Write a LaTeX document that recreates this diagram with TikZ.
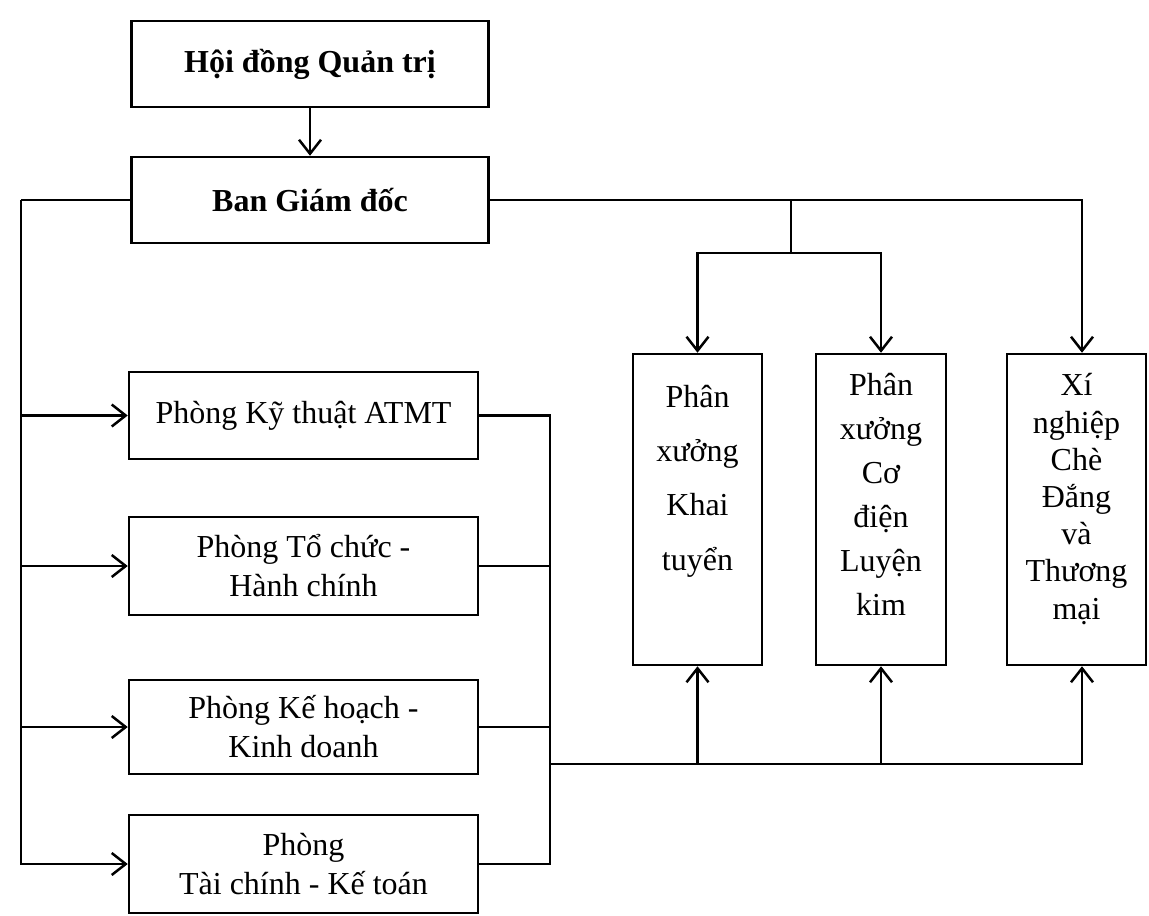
\documentclass[tikz,border=0pt]{standalone}
\usepackage{fontspec}
\setmainfont{Liberation Serif}
\usetikzlibrary{arrows.meta,calc}
\begin{document}
\begin{tikzpicture}[x=0.5pt,y=-0.5pt,
  box/.style={draw, line width=1.25pt, inner sep=0pt, align=center,
    font=\fontsize{16}{19.5}\selectfont},
  txt/.style={inner sep=0pt, align=center},
  ln/.style={line width=1.25pt},
  arr/.style={-{Straight Barb[length=7pt,width=11pt]}}]
\useasboundingbox (0,0) rectangle (1149,915);

% top boxes
\node[box, minimum width=178.5pt, minimum height=43pt, font=\fontsize{16}{19.5}\selectfont\bfseries] (hdqt) at (310,64) {Hội đồng Quản trị};
\node[box, minimum width=178.5pt, minimum height=43pt, font=\fontsize{16}{19.5}\selectfont\bfseries] (bgd) at (310,200) {Ban Giám đốc};

% left column
\node[box, minimum width=174.5pt, minimum height=43.5pt] (kt) at (303.5,415.5) {Phòng Kỹ thuật ATMT};
\node[box, minimum width=174.5pt, minimum height=49pt] (tc) at (303.5,566) {Phòng Tổ chức -\\Hành chính};
\node[box, minimum width=174.5pt, minimum height=47pt] (kh) at (303.5,727) {Phòng Kế hoạch -\\Kinh doanh};
\node[box, minimum width=174.5pt, minimum height=49pt] (tck) at (303.5,864) {Phòng\\Tài chính - Kế toán};

% workshops
\node[box, minimum width=64.5pt, minimum height=155.5pt] (px1) at (697.5,509.5) {};
\node[box, minimum width=65pt, minimum height=155.5pt] (px2) at (881,509.5) {};
\node[box, minimum width=69.5pt, minimum height=155.5pt] (xn) at (1076.5,509.5) {};
\node[txt, font=\fontsize{16}{27.2}\selectfont] (px1t) at (697.5,481) {Phân\\xưởng\\Khai\\tuyển};
\node[txt, font=\fontsize{16}{22}\selectfont] (px2t) at (881,494) {Phân\\xưởng\\Cơ\\điện\\Luyện\\kim};
\node[txt, font=\fontsize{16}{18.6}\selectfont] (xnt) at (1076.5,499) {Xí\\nghiệp\\Chè\\Đắng\\và\\Thương\\mại};

% connectors
\draw[ln,arr] (hdqt.south) -- (bgd.north);

\coordinate (L) at (21,200);
\draw[ln] (bgd.west) -- (L);
\draw[ln,arr] (L) |- (kt.west);
\draw[ln,arr] (L) |- (tc.west);
\draw[ln,arr] (L) |- (kh.west);
\draw[ln,arr] (L) |- (tck.west);

\coordinate (R) at (550,0);
\draw[ln] (kt.east) -- (kt.east -| R) |- (tck.east);
\draw[ln] (tc.east) -- (tc.east -| R);
\draw[ln] (kh.east) -- (kh.east -| R);

\coordinate (B) at (550,764);
\draw[ln,arr] (B) -| (px1.south);
\draw[ln,arr] (B) -| (px2.south);
\draw[ln,arr] (B) -| ([xshift=2.75pt]xn.south);

\draw[ln,arr] (bgd.east) -| ([xshift=2.75pt]xn.north);
\coordinate (S) at (791,253);
\draw[ln] (S |- bgd.east) -- (S);
\draw[ln,arr] (S) -| (px1.north);
\draw[ln,arr] (S) -| (px2.north);
\end{tikzpicture}
\end{document}
